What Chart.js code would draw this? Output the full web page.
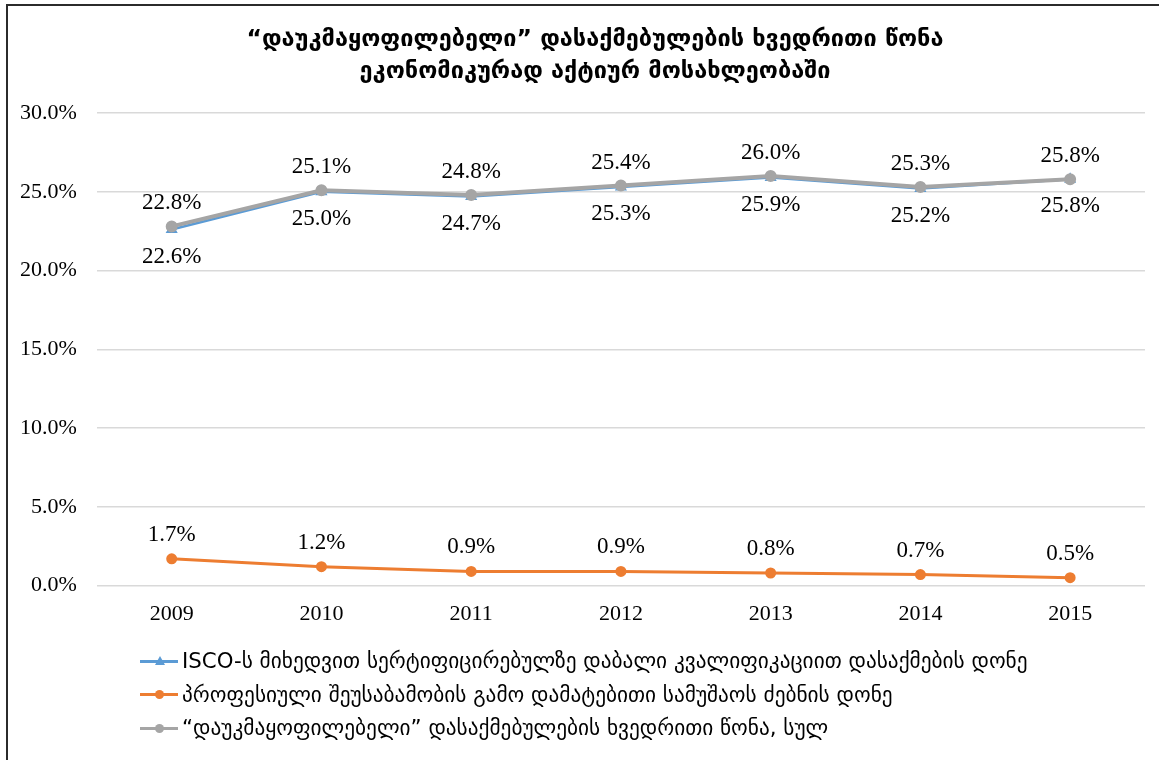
<!DOCTYPE html>
<html>
<head>
<meta charset="utf-8">
<script src="https://cdn.jsdelivr.net/npm/chart.js@4/dist/chart.umd.min.js"></script>
<style>
  html, body { margin: 0; padding: 0; background: #fff; }
  body { width: 1159px; height: 760px; position: relative; overflow: hidden; }
  #frame { position: absolute; left: 6px; top: 4px; width: 1300px; height: 900px;
           border-left: 2px solid #2b2b2b; border-top: 2px solid #2b2b2b; }
  #chart { position: absolute; left: 0; top: 0; }
  #title { position: absolute; left: 0; top: 22px; width: 1190px; text-align: center;
           font-family: 'DejaVu Sans', sans-serif; font-weight: bold; font-size: 23.5px; line-height: 32px; color: #000; }
  #legend { position: absolute; left: 140px; top: 644px; font-family: 'DejaVu Sans', sans-serif;
            font-size: 21.3px; color: #000; }
  .row { height: 33.5px; display: flex; align-items: center; white-space: nowrap; }
  .key { position: relative; width: 38px; height: 20px; margin-right: 4px; }
  .key .ln { position: absolute; left: 0; right: 0; top: 9px; height: 3px; }
  .key .mk { position: absolute; left: 15px; top: 6px; width: 9px; height: 9px; border-radius: 50%; }
  .key .tri { position: absolute; left: 15px; top: 5px; width: 0; height: 0;
              border-left: 5px solid transparent; border-right: 5px solid transparent; border-bottom: 9px solid #5B9BD5; }
</style>
</head>
<body>
<div id="frame"></div>
<canvas id="chart" width="1159" height="648"></canvas>
<div id="title"></div>
<div id="legend">
  <div class="row"><span class="key"><span class="ln" style="background:#5B9BD5"></span><span class="tri"></span></span><span id="lg0"></span></div>
  <div class="row"><span class="key"><span class="ln" style="background:#ED7D31"></span><span class="mk" style="background:#ED7D31"></span></span><span id="lg1"></span></div>
  <div class="row"><span class="key"><span class="ln" style="background:#A5A5A5"></span><span class="mk" style="background:#A5A5A5"></span></span><span id="lg2"></span></div>
</div>
<script>
const years = ['2009', '2010', '2011', '2012', '2013', '2014', '2015'];
const iscoLow = [22.6, 25.0, 24.7, 25.3, 25.9, 25.2, 25.8];
const extraJob = [1.7, 1.2, 0.9, 0.9, 0.8, 0.7, 0.5];
const totalShare = [22.8, 25.1, 24.8, 25.4, 26.0, 25.3, 25.8];
const seriesNames = [
  'ISCO-ს მიხედვით სერტიფიცირებულზე დაბალი კვალიფიკაციით დასაქმების დონე',
  'პროფესიული შეუსაბამობის გამო დამატებითი სამუშაოს ძებნის დონე',
  '“დაუკმაყოფილებელი” დასაქმებულების ხვედრითი წონა, სულ'
];
const titleLines = [
  '“დაუკმაყოფილებელი” დასაქმებულების ხვედრითი წონა',
  'ეკონომიკურად აქტიურ მოსახლეობაში'
];

document.getElementById('title').innerHTML = titleLines.join('<br>');
seriesNames.forEach((n, i) => { document.getElementById('lg' + i).textContent = n; });

// value labels next to each point
const pointLabels = {
  id: 'pointLabels',
  afterDatasetsDraw(chart) {
    const ctx = chart.ctx;
    ctx.save();
    ctx.font = '23px "Liberation Serif", serif';
    ctx.fillStyle = '#000';
    ctx.textAlign = 'center';
    ctx.textBaseline = 'middle';
    chart.data.datasets.forEach((ds, i) => {
      const meta = chart.getDatasetMeta(i);
      meta.data.forEach((pt, j) => {
        ctx.fillText(ds.data[j].toFixed(1) + '%', pt.x, pt.y + ds.labelOffset);
      });
    });
    ctx.restore();
  }
};

const ctx = document.getElementById('chart').getContext('2d');
new Chart(ctx, {
  type: 'line',
  data: {
    labels: years,
    datasets: [
      {
        label: seriesNames[0],
        data: iscoLow,
        borderColor: '#5B9BD5',
        backgroundColor: '#5B9BD5',
        borderWidth: 2.5,
        pointStyle: 'triangle',
        pointRadius: 4.5,
        labelOffset: 27,
        order: 1
      },
      {
        label: seriesNames[1],
        data: extraJob,
        borderColor: '#ED7D31',
        backgroundColor: '#ED7D31',
        borderWidth: 3,
        pointStyle: 'circle',
        pointRadius: 4,
        labelOffset: -24,
        order: 1
      },
      {
        label: seriesNames[2],
        data: totalShare,
        borderColor: '#A5A5A5',
        backgroundColor: '#A5A5A5',
        borderWidth: 4,
        pointStyle: 'circle',
        pointRadius: 4,
        labelOffset: -23,
        order: 0
      }
    ]
  },
  options: {
    responsive: false,
    animation: false,
    layout: { padding: { left: 0, right: 14, top: 113, bottom: 14 } },
    plugins: {
      legend: { display: false },
      tooltip: { enabled: false },
      title: { display: false }
    },
    scales: {
      x: {
        offset: true,
        grid: { display: false },
        border: { display: false },
        ticks: { color: '#000', padding: 7, font: { family: '"Liberation Serif", serif', size: 22 } }
      },
      y: {
        min: 0,
        max: 30,
        border: { display: false },
        grid: { color: '#D9D9D9', lineWidth: 1.5, drawTicks: false },
        ticks: {
          stepSize: 5,
          color: '#000',
          padding: 20,
          font: { family: '"Liberation Serif", serif', size: 22 },
          callback: v => v.toFixed(1) + '%'
        }
      }
    }
  },
  plugins: [pointLabels]
});
</script>
</body>
</html>
